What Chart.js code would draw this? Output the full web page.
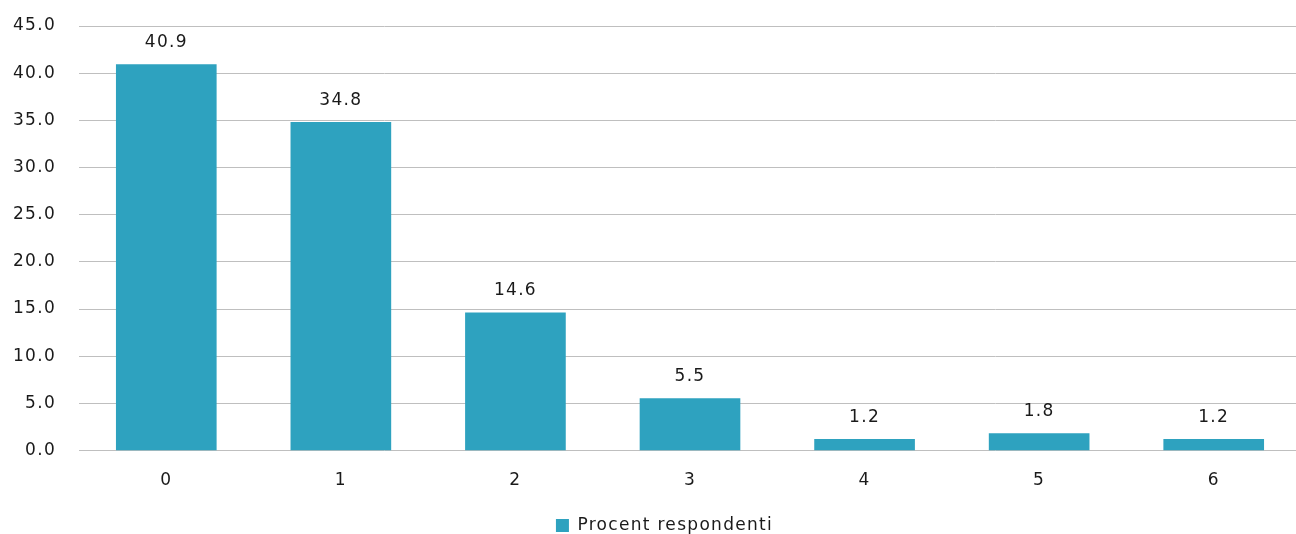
<!DOCTYPE html>
<html>
<head>
<meta charset="utf-8">
<script src="https://cdn.jsdelivr.net/npm/chart.js@4/dist/chart.umd.min.js"></script>
<style>
  html, body { margin: 0; padding: 0; background: #ffffff; overflow: hidden; }
  #wrap { width: 1301px; height: 544px; position: relative; }
</style>
</head>
<body>
<div id="wrap"><canvas id="c"></canvas></div>
<script>
// Number of items per respondent and share of respondents (%)
const categories = ['0', '1', '2', '3', '4', '5', '6'];
const procentRespondenti = [40.9, 34.8, 14.6, 5.5, 1.2, 1.8, 1.2];
const seriesLabel = 'Procent respondenti';
const yTicks = [0, 5, 10, 15, 20, 25, 30, 35, 40, 45];

const FONT = '"DejaVu Sans", sans-serif';
const TEXT = '#1a1a1a';
const BAR = '#2ea2bf';
const SPACING = '1.3px';

// Slightly tracked text everywhere on the canvas
const tracking = {
  id: 'tracking',
  beforeLayout(chart) { chart.ctx.letterSpacing = SPACING; },
  beforeDraw(chart) { chart.ctx.letterSpacing = SPACING; }
};

// Centre the legend under the space right of the value-axis labels
const legendShift = {
  id: 'legendShift',
  afterLayout(chart) {
    if (chart.legend) chart.legend.left += 28;
  }
};

// Draws each bar's value just above it
const valueLabels = {
  id: 'valueLabels',
  afterDatasetsDraw(chart) {
    const ctx = chart.ctx;
    const meta = chart.getDatasetMeta(0);
    const data = chart.data.datasets[0].data;
    ctx.save();
    ctx.letterSpacing = SPACING;
    ctx.font = '17px ' + FONT;
    ctx.fillStyle = TEXT;
    ctx.textAlign = 'center';
    ctx.textBaseline = 'middle';
    meta.data.forEach((bar, i) => {
      ctx.fillText(data[i].toFixed(1), bar.x, bar.y - 22);
    });
    ctx.restore();
  }
};

new Chart(document.getElementById('c'), {
  type: 'bar',
  data: {
    labels: categories,
    datasets: [{
      label: seriesLabel,
      data: procentRespondenti,
      backgroundColor: BAR,
      borderWidth: 0,
      barThickness: 100
    }]
  },
  options: {
    responsive: true,
    maintainAspectRatio: false,
    animation: false,
    layout: { padding: { top: 26, right: 0, bottom: 0, left: 0 } },
    plugins: {
      tooltip: { enabled: false },
      legend: {
        position: 'bottom',
        labels: {
          font: { family: FONT, size: 17 },
          color: TEXT,
          boxWidth: 13,
          boxHeight: 13,
          padding: 6
        }
      }
    },
    scales: {
      x: {
        grid: { display: false, drawTicks: false },
        border: { display: false },
        ticks: { font: { family: FONT, size: 17 }, color: TEXT, padding: 20 }
      },
      y: {
        min: 0,
        max: 45,
        afterFit(scale) {
          scale.width = 79;
          scale.paddingTop = 0;
          scale.paddingBottom = 0;
        },
        afterBuildTicks(scale) { scale.ticks = yTicks.map(v => ({ value: v })); },
        grid: { color: '#bfbfbf', lineWidth: 1, drawTicks: false },
        border: { display: false },
        ticks: {
          font: { family: FONT, size: 17 },
          color: TEXT,
          padding: 23,
          callback: v => Number(v).toFixed(1)
        }
      }
    }
  },
  plugins: [tracking, legendShift, valueLabels]
});
</script>
</body>
</html>
